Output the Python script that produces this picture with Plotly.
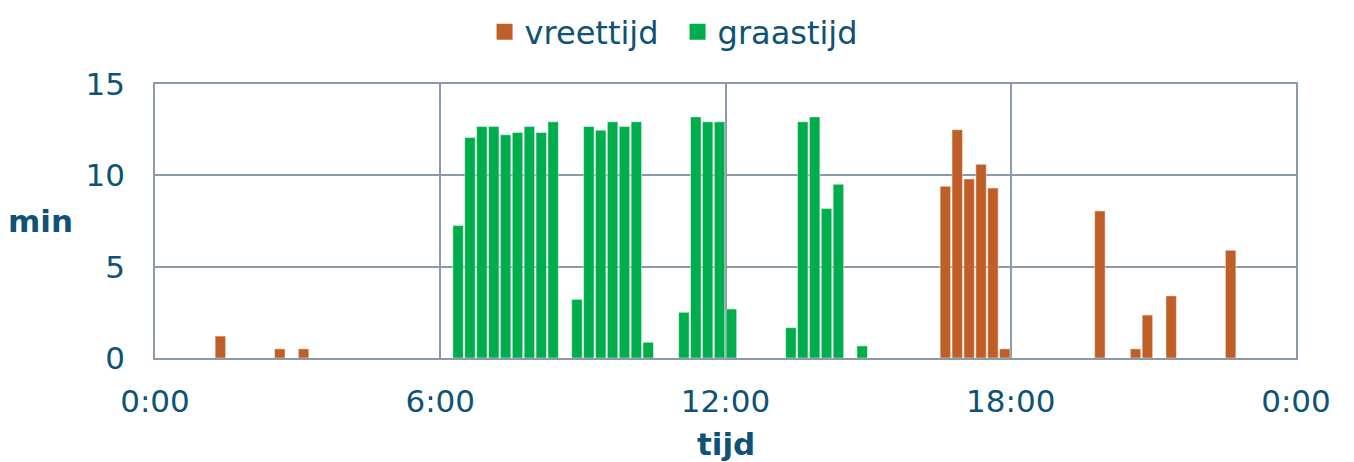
import plotly.graph_objects as go

# 15-minute bins (start time of bin) and minutes per bin
vreet_time = ["1:15", "2:30", "3:00", "16:30", "16:45", "17:00", "17:15", "17:30",
              "17:45", "19:45", "20:30", "20:45", "21:15", "22:30"]
vreet_min = [1.2, 0.5, 0.5, 9.4, 12.5, 9.8, 10.6, 9.3, 0.5, 8.05, 0.5, 2.35, 3.4, 5.9]

graas_time = ["6:15", "6:30", "6:45", "7:00", "7:15", "7:30", "7:45", "8:00", "8:15",
              "8:45", "9:00", "9:15", "9:30", "9:45", "10:00", "10:15",
              "11:00", "11:15", "11:30", "11:45", "12:00",
              "13:15", "13:30", "13:45", "14:00", "14:15", "14:45"]
graas_min = [7.25, 12.07, 12.67, 12.67, 12.22, 12.35, 12.67, 12.35, 12.93,
             3.21, 12.67, 12.47, 12.93, 12.67, 12.93, 0.86,
             2.5, 13.2, 12.93, 12.93, 2.68,
             1.66, 12.93, 13.2, 8.18, 9.51, 0.66]

tick_vals = [0, 6, 12, 18, 24]
tick_text = ["0:00", "6:00", "12:00", "18:00", "0:00"]

BIN = 0.25  # hours


def to_hours(t):
    h, m = t.split(":")
    return int(h) + int(m) / 60 + BIN / 2  # centre of the bin


TXT = "#0E5275"
GRID = "#8C99AA"
ORANGE = "#C05E28"
GREEN = "#00AD4C"
FONT = "DejaVu Sans"
EDGE = dict(color="rgba(255,255,255,0.45)", width=1)

fig = go.Figure()
fig.add_trace(go.Bar(x=[to_hours(t) for t in vreet_time], y=vreet_min, name="vreettijd",
                     width=0.22, showlegend=False, marker=dict(color=ORANGE, line=EDGE)))
fig.add_trace(go.Bar(x=[to_hours(t) for t in graas_time], y=graas_min, name="graastijd",
                     width=0.22, showlegend=False, marker=dict(color=GREEN, line=EDGE)))

# legend entries with bigger square keys
for name, col in [("vreettijd", ORANGE), ("graastijd", GREEN)]:
    fig.add_trace(go.Scatter(x=[None], y=[None], mode="markers", name=name,
                             marker=dict(symbol="square", size=17, color=col)))

# page body has an 8px margin, so the figure is 8px smaller
fig.update_layout(
    width=1346, height=454,
    margin=dict(l=147, r=58, t=76, b=104, autoexpand=False),
    plot_bgcolor="white", paper_bgcolor="white",
    font=dict(family=FONT, size=31, color=TXT),
    barmode="overlay",
    showlegend=True,
    legend=dict(orientation="h", x=0.458, xanchor="center", y=1.19, yanchor="middle",
                font=dict(size=32, color=TXT), itemwidth=30, tracegroupgap=0,
                entrywidth=148),
    xaxis=dict(range=[0, 24], tickvals=tick_vals, ticktext=tick_text,
               showgrid=True, gridcolor=GRID, gridwidth=1.5,
               showline=True, linecolor=GRID, linewidth=1.5, mirror=True,
               zeroline=False, ticks="outside", ticklen=15, tickcolor="rgba(0,0,0,0)",
               tickfont=dict(size=31, color=TXT)),
    yaxis=dict(range=[0, 15], tickvals=[0, 5, 10, 15],
               showgrid=True, gridcolor=GRID, gridwidth=1.5,
               showline=True, linecolor=GRID, linewidth=1.5, mirror=True,
               zeroline=False, ticks="outside", ticklen=22, tickcolor="rgba(0,0,0,0)",
               tickfont=dict(size=31, color=TXT)),
    annotations=[
        dict(text="<b>min</b>", xref="paper", yref="paper", x=-0.1, y=0.5,
             xanchor="center", yanchor="middle", showarrow=False,
             font=dict(size=31, color=TXT, family=FONT)),
        dict(text="<b>tijd</b>", xref="paper", yref="paper", x=0.5, y=0,
             xanchor="center", yanchor="middle", showarrow=False, yshift=-86,
             font=dict(size=31, color=TXT, family=FONT)),
    ],
)

fig.write_html("out.html")
